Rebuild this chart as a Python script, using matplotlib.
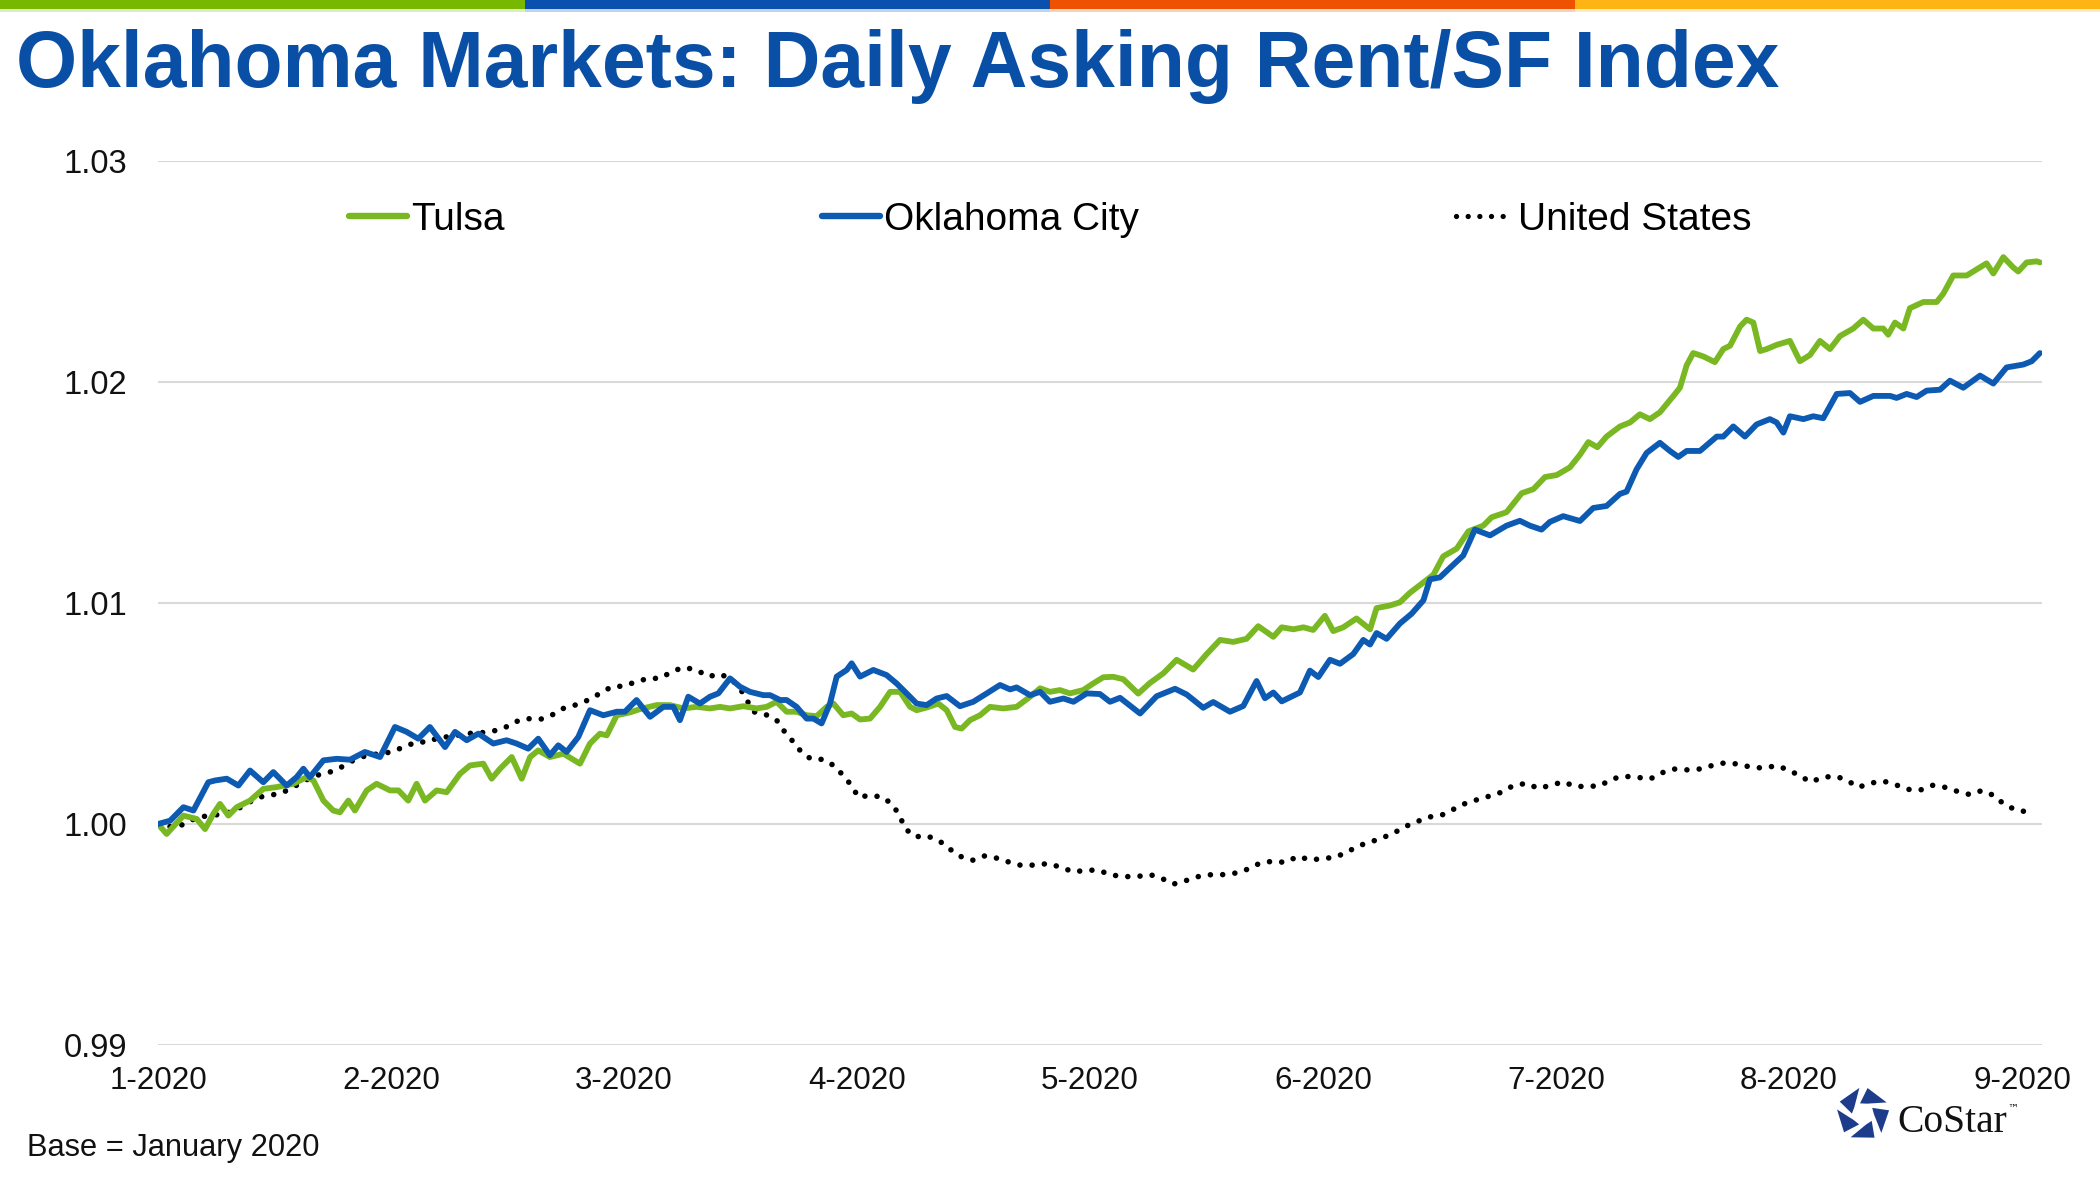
import matplotlib
matplotlib.use('Agg')
import matplotlib.pyplot as plt
from matplotlib.patches import Rectangle, Polygon
from matplotlib.lines import Line2D
import numpy as np

plt.rcParams['font.family'] = ['Liberation Sans', 'DejaVu Sans']

# ---------------- data ----------------
title = 'Oklahoma Markets: Daily Asking Rent/SF Index'
month_labels = ['1-2020', '2-2020', '3-2020', '4-2020', '5-2020',
                '6-2020', '7-2020', '8-2020', '9-2020']
y_ticks = [0.99, 1.00, 1.01, 1.02, 1.03]
y_tick_labels = ['0.99', '1.00', '1.01', '1.02', '1.03']
series_names = ['Tulsa', 'Oklahoma City', 'United States']
note = 'Base = January 2020'

# x in months since Jan 1 2020
tulsa_x = [0, 0.037, 0.109, 0.166, 0.202, 0.237, 0.266, 0.302, 0.338, 0.395, 0.452, 0.509, 0.581, 0.638,
           0.667, 0.710, 0.752, 0.781, 0.817, 0.845, 0.896, 0.938, 0.996, 1.032, 1.074, 1.110, 1.146, 1.196,
           1.239, 1.296, 1.339, 1.396, 1.432, 1.468, 1.518, 1.561, 1.597, 1.632, 1.682, 1.740, 1.811, 1.854,
           1.897, 1.926, 1.969, 2.026, 2.069, 2.140, 2.197, 2.255, 2.312, 2.369, 2.412, 2.455, 2.512, 2.569,
           2.612, 2.655, 2.698, 2.741, 2.784, 2.827, 2.870, 2.899, 2.941, 2.977, 3.013, 3.056, 3.099, 3.142,
           3.185, 3.228, 3.256, 3.299, 3.349, 3.385, 3.421, 3.449, 3.485, 3.528, 3.571, 3.628, 3.685, 3.743,
           3.786, 3.828, 3.871, 3.914, 3.971, 4.014, 4.057, 4.100, 4.143, 4.207, 4.257, 4.315, 4.372, 4.443,
           4.501, 4.558, 4.615, 4.672, 4.722, 4.787, 4.823, 4.873, 4.916, 4.958, 5.008, 5.044, 5.087, 5.144,
           5.202, 5.230, 5.288, 5.330, 5.373, 5.431, 5.474, 5.516, 5.574, 5.624, 5.688, 5.724, 5.788, 5.853,
           5.903, 5.953, 6.003, 6.060, 6.103, 6.139, 6.178, 6.217, 6.275, 6.318, 6.360, 6.403, 6.446, 6.504,
           6.532, 6.561, 6.589, 6.632, 6.682, 6.718, 6.747, 6.790, 6.818, 6.847, 6.876, 6.904, 6.947, 7.004,
           7.047, 7.090, 7.133, 7.176, 7.219, 7.276, 7.319, 7.362, 7.405, 7.426, 7.455, 7.491, 7.519, 7.577,
           7.634, 7.662, 7.705, 7.763, 7.805, 7.848, 7.877, 7.920, 7.963, 7.984, 8.020, 8.063, 8.077]
tulsa_y = [1.00000, 0.99955, 1.00038, 1.00023, 0.99977, 1.00045, 1.00091, 1.00038, 1.00076, 1.00106,
           1.00159, 1.00167, 1.00182, 1.00212, 1.00197, 1.00106, 1.00061, 1.00053, 1.00106, 1.00061,
           1.00152, 1.00182, 1.00152, 1.00152, 1.00106, 1.00182, 1.00106, 1.00152, 1.00144, 1.00227,
           1.00265, 1.00273, 1.00205, 1.00250, 1.00303, 1.00205, 1.00303, 1.00333, 1.00303, 1.00318,
           1.00273, 1.00364, 1.00409, 1.00401, 1.00492, 1.00505, 1.00520, 1.00538, 1.00538, 1.00523,
           1.00530, 1.00523, 1.00530, 1.00523, 1.00533, 1.00523, 1.00530, 1.00553, 1.00508, 1.00508,
           1.00492, 1.00488, 1.00530, 1.00545, 1.00492, 1.00500, 1.00473, 1.00477, 1.00530, 1.00598,
           1.00598, 1.00530, 1.00515, 1.00527, 1.00545, 1.00515, 1.00439, 1.00432, 1.00470, 1.00492,
           1.00530, 1.00523, 1.00530, 1.00576, 1.00614, 1.00598, 1.00606, 1.00591, 1.00606, 1.00636,
           1.00664, 1.00666, 1.00655, 1.00590, 1.00638, 1.00682, 1.00743, 1.00699, 1.00769, 1.00833,
           1.00824, 1.00838, 1.00895, 1.00847, 1.00890, 1.00881, 1.00890, 1.00878, 1.00942, 1.00873,
           1.00890, 1.00930, 1.00881, 1.00977, 1.00989, 1.01003, 1.01046, 1.01093, 1.01128, 1.01211,
           1.01246, 1.01324, 1.01350, 1.01388, 1.01411, 1.01497, 1.01515, 1.01570, 1.01579, 1.01614,
           1.01671, 1.01728, 1.01705, 1.01753, 1.01799, 1.01817, 1.01854, 1.01832, 1.01863, 1.01937,
           1.01974, 1.02076, 1.02131, 1.02116, 1.02090, 1.02149, 1.02164, 1.02251, 1.02282, 1.02269,
           1.02140, 1.02149, 1.02168, 1.02186, 1.02094, 1.02122, 1.02186, 1.02149, 1.02208, 1.02242,
           1.02282, 1.02242, 1.02242, 1.02214, 1.02269, 1.02242, 1.02334, 1.02362, 1.02362, 1.02399,
           1.02482, 1.02482, 1.02509, 1.02537, 1.02491, 1.02565, 1.02518, 1.02500, 1.02541, 1.02546,
           1.02541]

okc_x = [0, 0.052, 0.109, 0.152, 0.216, 0.245, 0.295, 0.345, 0.395, 0.452, 0.495, 0.552, 0.595, 0.624,
         0.652, 0.710, 0.767, 0.824, 0.888, 0.953, 1.017, 1.067, 1.117, 1.167, 1.232, 1.275, 1.325, 1.375,
         1.439, 1.496, 1.539, 1.589, 1.632, 1.682, 1.718, 1.754, 1.804, 1.854, 1.911, 1.969, 2.004, 2.054,
         2.112, 2.169, 2.212, 2.240, 2.276, 2.326, 2.369, 2.405, 2.455, 2.498, 2.541, 2.598, 2.627, 2.670,
         2.698, 2.741, 2.784, 2.813, 2.848, 2.884, 2.913, 2.956, 2.977, 3.013, 3.070, 3.127, 3.170, 3.213,
         3.256, 3.299, 3.342, 3.385, 3.442, 3.499, 3.557, 3.614, 3.657, 3.685, 3.743, 3.786, 3.828, 3.886,
         3.929, 3.986, 4.043, 4.086, 4.129, 4.215, 4.286, 4.365, 4.415, 4.486, 4.529, 4.601, 4.658, 4.715,
         4.751, 4.787, 4.823, 4.901, 4.944, 4.980, 5.030, 5.073, 5.130, 5.173, 5.202, 5.230, 5.273, 5.330,
         5.380, 5.431, 5.459, 5.502, 5.545, 5.602, 5.652, 5.717, 5.788, 5.845, 5.888, 5.938, 5.974, 6.031,
         6.103, 6.160, 6.217, 6.275, 6.303, 6.346, 6.389, 6.446, 6.489, 6.525, 6.561, 6.618, 6.690, 6.718,
         6.761, 6.811, 6.861, 6.918, 6.947, 6.976, 7.004, 7.062, 7.104, 7.147, 7.205, 7.262, 7.305, 7.362,
         7.434, 7.462, 7.505, 7.548, 7.591, 7.648, 7.691, 7.748, 7.820, 7.877, 7.934, 8.006, 8.042, 8.077]
okc_y = [1.00000, 1.00015, 1.00076, 1.00061, 1.00189, 1.00197, 1.00205, 1.00174, 1.00242, 1.00189,
         1.00235, 1.00174, 1.00212, 1.00250, 1.00212, 1.00288, 1.00295, 1.00291, 1.00326, 1.00303,
         1.00439, 1.00417, 1.00386, 1.00439, 1.00348, 1.00417, 1.00379, 1.00409, 1.00364, 1.00379,
         1.00364, 1.00341, 1.00386, 1.00311, 1.00356, 1.00326, 1.00394, 1.00515, 1.00492, 1.00508,
         1.00508, 1.00561, 1.00485, 1.00530, 1.00530, 1.00470, 1.00576, 1.00545, 1.00576, 1.00591,
         1.00659, 1.00621, 1.00598, 1.00583, 1.00583, 1.00561, 1.00561, 1.00530, 1.00477, 1.00477,
         1.00455, 1.00545, 1.00667, 1.00697, 1.00727, 1.00667, 1.00697, 1.00674, 1.00636, 1.00591,
         1.00545, 1.00538, 1.00568, 1.00579, 1.00533, 1.00553, 1.00591, 1.00629, 1.00609, 1.00618,
         1.00583, 1.00598, 1.00553, 1.00568, 1.00553, 1.00591, 1.00588, 1.00553, 1.00571, 1.00500,
         1.00578, 1.00612, 1.00586, 1.00526, 1.00552, 1.00508, 1.00534, 1.00647, 1.00569, 1.00595,
         1.00555, 1.00595, 1.00694, 1.00665, 1.00743, 1.00725, 1.00769, 1.00833, 1.00812, 1.00864,
         1.00838, 1.00907, 1.00951, 1.01012, 1.01107, 1.01116, 1.01159, 1.01215, 1.01332, 1.01306,
         1.01350, 1.01372, 1.01350, 1.01332, 1.01367, 1.01393, 1.01371, 1.01430, 1.01439, 1.01494,
         1.01504, 1.01605, 1.01679, 1.01725, 1.01688, 1.01661, 1.01688, 1.01688, 1.01753, 1.01753,
         1.01799, 1.01753, 1.01808, 1.01832, 1.01817, 1.01771, 1.01845, 1.01832, 1.01845, 1.01836,
         1.01946, 1.01950, 1.01910, 1.01937, 1.01937, 1.01928, 1.01946, 1.01932, 1.01961, 1.01965,
         1.02006, 1.01974, 1.02029, 1.01993, 1.02066, 1.02079, 1.02094, 1.02131]

us_x = [0, 0.066, 0.116, 0.166, 0.223, 0.280, 0.330, 0.380, 0.430, 0.481, 0.538, 0.581, 0.631, 0.681,
        0.738, 0.788, 0.838, 0.896, 0.953, 1.003, 1.053, 1.110, 1.160, 1.210, 1.260, 1.318, 1.375, 1.425,
        1.482, 1.532, 1.582, 1.639, 1.689, 1.740, 1.790, 1.847, 1.897, 1.947, 1.997, 2.054, 2.104, 2.155,
        2.205, 2.255, 2.312, 2.362, 2.412, 2.462, 2.498, 2.527, 2.555, 2.605, 2.655, 2.687, 2.723, 2.758,
        2.801, 2.856, 2.906, 2.944, 2.977, 3.006, 3.056, 3.113, 3.156, 3.185, 3.206, 3.249, 3.299, 3.353,
        3.399, 3.445, 3.496, 3.549, 3.607, 3.657, 3.711, 3.768, 3.821, 3.879, 3.929, 3.983, 4.036, 4.089,
        4.143, 4.200, 4.258, 4.308, 4.358, 4.415, 4.465, 4.522, 4.579, 4.637, 4.680, 4.730, 4.787, 4.837,
        4.894, 4.944, 5.001, 5.051, 5.102, 5.152, 5.202, 5.252, 5.302, 5.352, 5.402, 5.452, 5.509, 5.559,
        5.609, 5.659, 5.717, 5.767, 5.817, 5.874, 5.924, 5.974, 6.031, 6.082, 6.139, 6.189, 6.239, 6.289,
        6.346, 6.403, 6.453, 6.504, 6.561, 6.618, 6.668, 6.725, 6.783, 6.833, 6.890, 6.947, 6.997, 7.047,
        7.093, 7.147, 7.202, 7.250, 7.298, 7.350, 7.405, 7.455, 7.508, 7.562, 7.617, 7.670, 7.722, 7.777,
        7.827, 7.880, 7.920, 7.970, 8.020]
us_y = [1.00000, 0.99985, 1.00000, 1.00030, 1.00038, 1.00045, 1.00061, 1.00091, 1.00121, 1.00129,
        1.00144, 1.00167, 1.00197, 1.00220, 1.00235, 1.00258, 1.00288, 1.00311, 1.00318, 1.00326,
        1.00348, 1.00371, 1.00371, 1.00394, 1.00394, 1.00409, 1.00412, 1.00417, 1.00432, 1.00462,
        1.00477, 1.00473, 1.00492, 1.00523, 1.00538, 1.00561, 1.00591, 1.00621, 1.00624, 1.00644,
        1.00659, 1.00659, 1.00689, 1.00709, 1.00697, 1.00667, 1.00679, 1.00654, 1.00614, 1.00561,
        1.00508, 1.00497, 1.00470, 1.00421, 1.00376, 1.00330, 1.00295, 1.00292, 1.00261, 1.00215,
        1.00174, 1.00121, 1.00130, 1.00121, 1.00083, 1.00033, 0.99980, 0.99942, 0.99947, 0.99924,
        0.99886, 0.99853, 0.99836, 0.99856, 0.99844, 0.99826, 0.99811, 0.99815, 0.99821, 0.99803,
        0.99783, 0.99791, 0.99791, 0.99770, 0.99762, 0.99762, 0.99771, 0.99754, 0.99728, 0.99745,
        0.99762, 0.99771, 0.99771, 0.99780, 0.99797, 0.99823, 0.99832, 0.99826, 0.99854, 0.99837,
        0.99844, 0.99849, 0.99872, 0.99901, 0.99918, 0.99936, 0.99958, 0.99988, 1.00010, 1.00031,
        1.00040, 1.00066, 1.00092, 1.00109, 1.00127, 1.00144, 1.00174, 1.00184, 1.00161, 1.00174,
        1.00191, 1.00170, 1.00170, 1.00173, 1.00203, 1.00216, 1.00212, 1.00203, 1.00231, 1.00249,
        1.00245, 1.00249, 1.00264, 1.00277, 1.00271, 1.00258, 1.00253, 1.00264, 1.00245, 1.00218,
        1.00190, 1.00212, 1.00216, 1.00197, 1.00166, 1.00185, 1.00194, 1.00179, 1.00157, 1.00153,
        1.00175, 1.00166, 1.00148, 1.00133, 1.00151, 1.00129, 1.00092, 1.00065, 1.00055]

# ---------------- style ----------------
GREEN = '#79B823'
BLUE = '#0D5AB3'
TITLE_BLUE = '#0A4FA6'
GRID = '#D9D9D9'
BAR_COLORS = ['#79B800', '#0A50AE', '#EE5200', '#FDB414']
LOGO = '#1D3D8C'

W, H = 2100, 1181
fig = plt.figure(figsize=(21, 11.81), dpi=100)
fig.patch.set_facecolor('white')

# top colour band
for i, c in enumerate(BAR_COLORS):
    fig.add_artist(Rectangle((i / 4, 1 - 9 / H), 0.25, 9 / H, transform=fig.transFigure,
                             facecolor=c, edgecolor='none'))
    fig.add_artist(Rectangle((i / 4, 1 - 12 / H), 0.25, 3 / H, transform=fig.transFigure,
                             facecolor=c, edgecolor='none', alpha=0.25))

fig.text(16 / W, 1 - 87 / H, title, fontsize=56.6, fontweight='bold', color=TITLE_BLUE,
         va='baseline', ha='left')

ax = fig.add_axes([158 / W, (H - 1045) / H, (2042 - 158) / W, (1045 - 161) / H])
ax.set_facecolor('white')
ax.plot(tulsa_x, tulsa_y, color=GREEN, lw=4.2, solid_joinstyle='round',
        solid_capstyle='round', zorder=3)
ax.plot(okc_x, okc_y, color=BLUE, lw=4.2, solid_joinstyle='round',
        solid_capstyle='round', zorder=4)
ax.plot(us_x, us_y, color='black', lw=4.0, linestyle=(0, (0.01, 2.2)),
        dash_capstyle='round', zorder=2)

ax.set_xlim(0, 8.086)
ax.set_ylim(0.99, 1.03)
ax.set_yticks(y_ticks)
ax.set_yticklabels(y_tick_labels)
ax.set_xticks(range(len(month_labels)))
ax.set_xticklabels(month_labels)
ax.tick_params(axis='y', length=0, pad=22, labelsize=23.5, labelcolor='#111111')
ax.tick_params(axis='x', length=0, pad=15, labelsize=22.6, labelcolor='#111111')
ax.yaxis.grid(True, color=GRID, lw=1.5)
ax.xaxis.grid(False)
ax.set_axisbelow(True)
for s in ax.spines.values():
    s.set_visible(False)

handles = [Line2D([], [], color=GREEN, lw=4.6, solid_capstyle='round'),
           Line2D([], [], color=BLUE, lw=4.6, solid_capstyle='round'),
           Line2D([], [], color='black', lw=3.8, linestyle=(0, (0.01, 2.2)), dash_capstyle='round')]
ax.legend(handles, series_names, loc='center left', bbox_to_anchor=(349 / W, 1 - 220 / H),
          bbox_transform=fig.transFigure, ncol=3, frameon=False, fontsize=28,
          handlelength=1.5, handletextpad=0.1, columnspacing=8.15, borderpad=0,
          borderaxespad=0)

fig.text(27 / W, 1 - 1148 / H, note, fontsize=22.2, va='center', ha='left', color='#111111')

# CoStar logo
lax = fig.add_axes([1834 / W, (H - 1143) / H, 58 / W, 58 / H])
lax.set_xlim(-1.1, 1.1)
lax.set_ylim(-1.1, 1.1)
lax.set_aspect('equal')
lax.axis('off')
for k in range(5):
    a0 = np.deg2rad(90 + 72 * k + 8)
    a1 = np.deg2rad(90 + 72 * k + 62)
    R, r = 1.0, 0.42
    pts = [(R * np.cos(a0), R * np.sin(a0)),
           (R * np.cos(a1), R * np.sin(a1)),
           (r * np.cos(a1 + 0.45), r * np.sin(a1 + 0.45)),
           (r * np.cos(a0 + 0.75), r * np.sin(a0 + 0.75))]
    lax.add_patch(Polygon(pts, closed=True, facecolor=LOGO, edgecolor='none'))
fig.text(1897 / W, 1 - 1132 / H, 'CoStar', fontsize=28.5, family=['Liberation Serif', 'DejaVu Serif'],
         va='baseline', ha='left', color='#111111')
fig.text(2007 / W, 1 - 1112 / H, '\u2122', fontsize=8, family=['DejaVu Sans'],
         va='baseline', ha='left', color='#111111')

fig.savefig('out.png', dpi=100, facecolor='white')
